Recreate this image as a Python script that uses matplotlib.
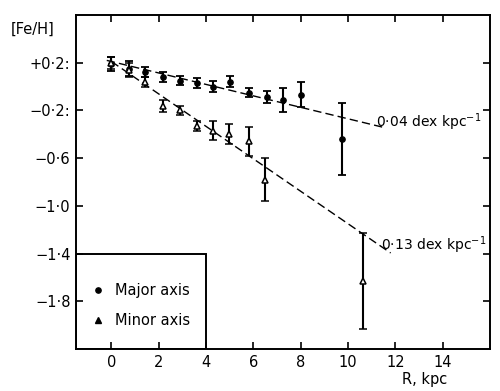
import numpy as np
import matplotlib
matplotlib.use('Agg')
import matplotlib.pyplot as plt
from matplotlib.patches import Rectangle
from matplotlib.lines import Line2D

# major axis points (filled dots)
major_r = [0.0, 0.73, 1.43, 2.16, 2.9, 3.6, 4.31, 5.01, 5.81, 6.56, 7.26, 8.0, 9.74]
major_feh = [0.19, 0.15, 0.12, 0.08, 0.05, 0.03, 0.0, 0.04, -0.05, -0.09, -0.11, -0.07, -0.44]
major_err = [0.06, 0.065, 0.04, 0.04, 0.04, 0.045, 0.045, 0.045, 0.04, 0.05, 0.1, 0.105, 0.3]

# minor axis points (open triangles)
minor_r = [0.0, 0.73, 1.43, 2.16, 2.9, 3.6, 4.31, 4.98, 5.81, 6.51, 10.62]
minor_feh = [0.2, 0.14, 0.04, -0.16, -0.2, -0.33, -0.37, -0.40, -0.46, -0.78, -1.63]
minor_err = [0.05, 0.06, 0.04, 0.05, 0.04, 0.045, 0.08, 0.085, 0.12, 0.18, 0.4]

# gradient fits: intercept, slope, range
major_fit = (0.21, -0.048, -0.2, 11.5)
minor_fit = (0.21, -0.136, 0.0, 11.8)

xticks = [0, 2, 4, 6, 8, 10, 12, 14]
yticks = [0.2, -0.2, -0.6, -1.0, -1.4, -1.8]
ytick_labels = ['+0\u00b72:', '\u22120\u00b72:', '\u22120\u00b76', '\u22121\u00b70', '\u22121\u00b74', '\u22121\u00b78']

plt.rcParams['font.family'] = ['DejaVu Sans']

fig = plt.figure(figsize=(5, 3.91), dpi=100)
ax = fig.add_axes([0.152, 0.1074, 0.828, 0.8542])

for fit in [major_fit, minor_fit]:
    a, b, r0, r1 = fit
    rr = np.array([r0, r1])
    ax.plot(rr, a + b * rr, color='black', lw=1.0, dashes=(6, 3))

ax.errorbar(major_r, major_feh, yerr=major_err, fmt='o', color='black', ms=3.8,
            elinewidth=1.5, capsize=3, capthick=1.3)
ax.errorbar(minor_r, minor_feh, yerr=minor_err, fmt='^', color='black', mfc='white',
            mec='black', ms=4.5, mew=1.1, elinewidth=1.5, capsize=3, capthick=1.3)

ax.text(11.2, -0.30, '0\u00b704 dex kpc$^{-1}$', fontsize=10, va='center', ha='left')
ax.text(11.4, -1.33, '0\u00b713 dex kpc$^{-1}$', fontsize=10, va='center', ha='left')

ax.set_xlim(-1.5, 16)
ax.set_ylim(-2.2, 0.6)
ax.set_xticks(xticks)
ax.set_xticklabels([str(t) for t in xticks])
ax.set_yticks(yticks)
ax.set_yticklabels(ytick_labels)
ax.tick_params(direction='in', length=5, width=1.2, top=True, right=True,
               labelsize=10.5, pad=4)
for s in ax.spines.values():
    s.set_linewidth(1.4)

# legend box in lower left
ax.add_patch(Rectangle((-1.5, -2.2), 5.5, 0.8, fill=False, lw=1.4, zorder=3))
handles = [Line2D([], [], ls='none', marker='o', color='black', ms=3.8),
           Line2D([], [], ls='none', marker='^', color='black', ms=5)]
ax.legend(handles, ['Major axis', 'Minor axis'], loc='center left',
          bbox_to_anchor=(0.0, 0.13), frameon=False, fontsize=10.5,
          handletextpad=0.6, labelspacing=1.0, handlelength=1.2)

fig.text(0.065, 0.925, '[Fe/H]', fontsize=10.5, ha='center', va='center')
fig.text(0.85, 0.03, 'R, kpc', fontsize=10.5, ha='center', va='center')

fig.savefig('out.png', dpi=100)
